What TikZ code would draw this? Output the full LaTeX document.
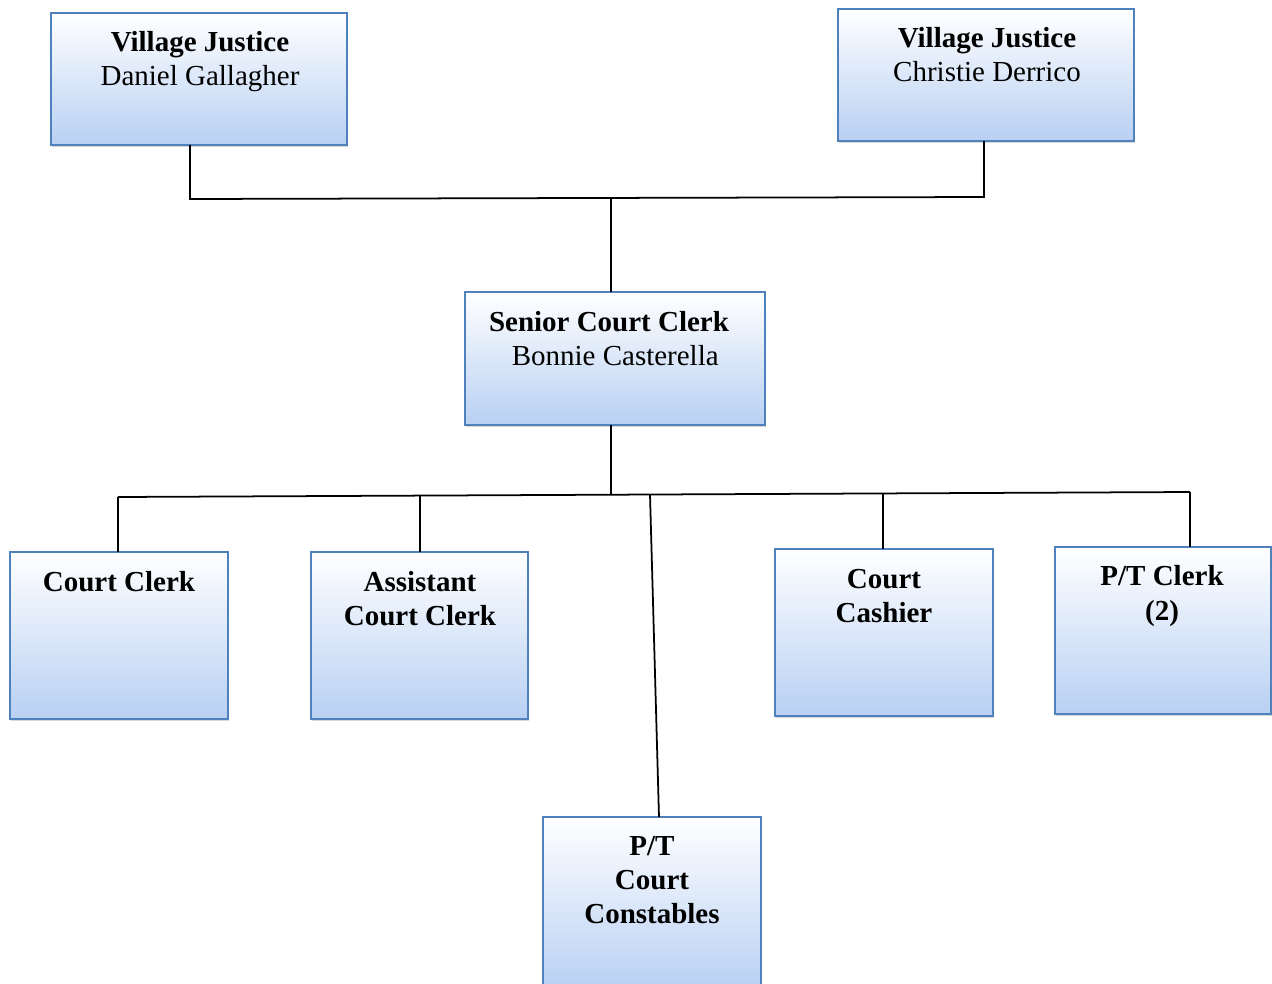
\documentclass[tikz,border=0pt]{standalone}
\usepackage{fontspec}
\setmainfont{Liberation Serif}
\usetikzlibrary{shadows}
\definecolor{boxedge}{RGB}{79,129,189}
\definecolor{boxfill}{RGB}{184,208,243}
\begin{document}
\begin{tikzpicture}[x=0.02cm,y=-0.02cm,
  orgbox/.style={rectangle, draw=boxedge, line width=1.1pt, outer sep=0pt, inner sep=0pt,
    top color=white, middle color=boxfill!18!white, bottom color=boxfill,
    drop shadow={shadow xshift=0.6pt, shadow yshift=-1.2pt, opacity=0.3}},
  wide/.style={minimum width=5.92cm, minimum height=2.64cm},
  narrow/.style={minimum width=4.36cm, minimum height=3.34cm},
  label/.style={align=center, inner sep=0pt, font=\fontsize{16.5}{19.4}\selectfont},
  link/.style={line width=1pt, black}]
\useasboundingbox (0,0) rectangle (1272,984);
\fill[white] (0,0) rectangle (1272,984);

% boxes
\node[orgbox, wide] (vj1) at (199,79) {};
\node[orgbox, wide] (vj2) at (986,75) {};
\node[orgbox, minimum width=6cm, minimum height=2.66cm] (senior) at (615,358.5) {};
\node[orgbox, narrow] (clerk) at (119,635.5) {};
\node[orgbox, narrow, minimum width=4.34cm] (asst) at (419.5,635.5) {};
\node[orgbox, narrow] (cashier) at (884,632.5) {};
\node[orgbox, narrow, minimum width=4.32cm] (ptclerk) at (1163,630.5) {};
\node[orgbox, minimum width=4.36cm, minimum height=3.46cm] (cons) at (652,903.5) {};

% texts
\node[label] (vj1t) at (200,62) {\textbf{Village Justice}\\Daniel Gallagher};
\node[label] (vj2t) at (987,55) {\textbf{Village Justice}\\Christie Derrico};
\node[label] (seniort) at (609,339) {\textbf{Senior Court Clerk}\\\hspace*{0.25cm}Bonnie Casterella};
\node[label] (clerkt) at (119,582) {\textbf{Court Clerk}};
\node[label] (asstt) at (420,599) {\textbf{Assistant}\\\textbf{Court Clerk}};
\node[label] (cashiert) at (884,596) {\textbf{Court}\\\textbf{Cashier}};
\node[label] (ptclerkt) at (1162,596) {\textbf{P/T Clerk}\\\textbf{(2)}};
\node[label] (const) at (652,880) {\textbf{P/T}\\\textbf{Court}\\\textbf{Constables}};

% junction points
\coordinate (tl) at (190,199);
\coordinate (tr) at (984,197);
\coordinate (tm) at (611,198);
\coordinate (bl) at (118,497);
\coordinate (br) at (1190,492);
\coordinate (bm) at (611,494.7);
\coordinate (ba) at (420,495.6);
\coordinate (bc) at (650,494.5);
\coordinate (bk) at (883,493.4);

% connectors
\draw[link] (vj1.south -| tl) -- (tl) -- (tr) -- (vj2.south -| tr);
\draw[link] (tm) -- (senior.north -| tm);
\draw[link] (senior.south -| bm) -- (bm);
\draw[link] (bl) -- (br);
\draw[link] (bl) -- (clerk.north -| bl);
\draw[link] (ba) -- (asst.north -| ba);
\draw[link] (bk) -- (cashier.north -| bk);
\draw[link] (br) -- (ptclerk.north -| br);
\draw[link] (bc) -- ([xshift=0.14cm]cons.north);
\end{tikzpicture}
\end{document}
